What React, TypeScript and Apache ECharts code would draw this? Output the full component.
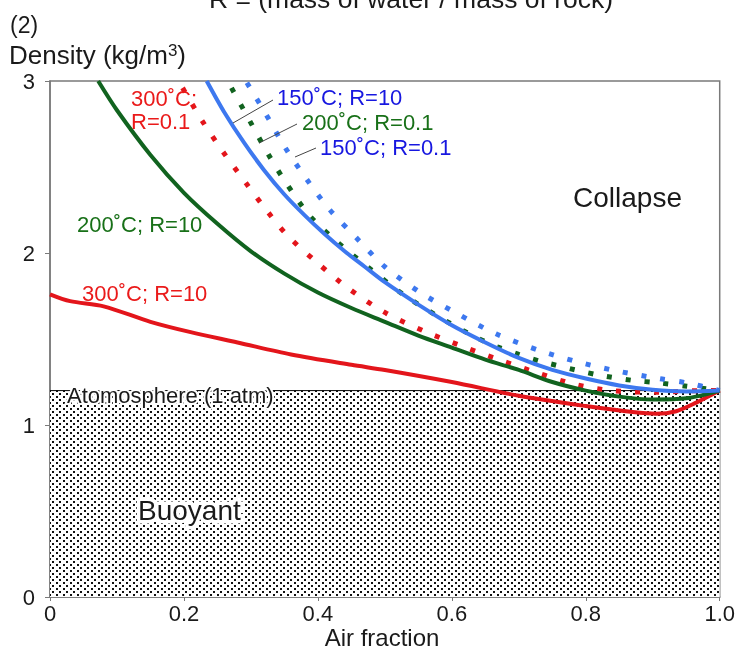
import { useEffect, useRef } from "react";
import * as echarts from "echarts";

// 300°C; R=10 (red solid)
const air300R10 = [0, 0.03, 0.08, 0.15, 0.21, 0.28, 0.36, 0.45, 0.5, 0.6, 0.7, 0.8, 0.87, 0.905, 0.935, 0.965, 1.0];
const den300R10 = [1.76, 1.72, 1.69, 1.6, 1.54, 1.48, 1.41, 1.35, 1.32, 1.25, 1.17, 1.11, 1.075, 1.065, 1.08, 1.13, 1.2];
// 200°C; R=10 (green solid)
const air200R10 = [0.072, 0.1, 0.15, 0.2, 0.25, 0.3, 0.35, 0.4, 0.45, 0.5, 0.55, 0.6, 0.65, 0.7, 0.75, 0.8, 0.85, 0.9, 0.95, 1.0];
const den200R10 = [3.0, 2.83, 2.57, 2.35, 2.17, 2.01, 1.88, 1.77, 1.68, 1.6, 1.52, 1.45, 1.38, 1.32, 1.25, 1.2, 1.165, 1.148, 1.155, 1.2];
// 150°C; R=10 (blue solid)
const air150R10 = [0.234, 0.26, 0.29, 0.32, 0.35, 0.38, 0.41, 0.44, 0.47, 0.5, 0.55, 0.6, 0.65, 0.7, 0.75, 0.8, 0.85, 0.9, 0.95, 1.0];
const den150R10 = [3.0, 2.82, 2.64, 2.48, 2.34, 2.22, 2.11, 2.01, 1.92, 1.83, 1.7, 1.58, 1.48, 1.39, 1.32, 1.27, 1.23, 1.205, 1.195, 1.2];
// 300°C; R=0.1 (red dotted)
const air300R01 = [0.198, 0.227, 0.258, 0.292, 0.325, 0.355, 0.4, 0.447, 0.502, 0.562, 0.621, 0.67, 0.73, 0.785, 0.839, 0.909, 0.973, 1.0];
const den300R01 = [2.96, 2.77, 2.59, 2.41, 2.24, 2.1, 1.94, 1.79, 1.65, 1.54, 1.45, 1.38, 1.3, 1.235, 1.2, 1.19, 1.2, 1.2];
// 200°C; R=0.1 (green dotted)
const air200R01 = [0.271, 0.298, 0.325, 0.352, 0.387, 0.427, 0.474, 0.527, 0.58, 0.636, 0.668, 0.7, 0.733, 0.785, 0.82, 0.869, 0.909, 0.951, 1.0];
const den200R01 = [2.96, 2.77, 2.58, 2.41, 2.22, 2.07, 1.92, 1.76, 1.63, 1.51, 1.455, 1.41, 1.37, 1.32, 1.29, 1.26, 1.245, 1.225, 1.2];
// 150°C; R=0.1 (blue dotted)
const air150R01 = [0.294, 0.322, 0.35, 0.383, 0.418, 0.457, 0.5, 0.553, 0.607, 0.666, 0.733, 0.785, 0.839, 0.909, 0.951, 1.0];
const den150R01 = [2.99, 2.81, 2.62, 2.43, 2.25, 2.09, 1.92, 1.77, 1.65, 1.53, 1.43, 1.37, 1.32, 1.27, 1.245, 1.2];

// Atmosphere (1 atm)
const atmAir = [0, 1];
const atmDensity = [1.2, 1.2];

const xTickLabels = ["0", "0.2", "0.4", "0.6", "0.8", "1.0"];
const yTickLabels = ["0", "1", "2", "3"];

const FONT = "'Liberation Sans', Arial, Helvetica, sans-serif";
const RED = "#e3151b";
const GREEN = "#11631f";
const BLUE_LINE = "#3d78ef";
const RED_TXT = "#ea1a1a";
const GREEN_TXT = "#187018";
const BLUE_TXT = "#1717e0";

function zip(xs: number[], ys: number[]) {
  return xs.map((x, i) => [x, ys[i]]);
}

export default function App() {
  const ref = useRef<HTMLDivElement>(null);
  useEffect(() => {
    if (!ref.current) return;
    const chart = echarts.init(ref.current, null, { renderer: "svg" });

    const tile = document.createElement("canvas");
    tile.width = 7;
    tile.height = 6;
    const ctx = tile.getContext("2d")!;
    ctx.fillStyle = "#ffffff";
    ctx.fillRect(0, 0, 7, 6);
    ctx.fillStyle = "#111111";
    ctx.fillRect(0, 0, 2, 2);
    ctx.fillRect(3, 3, 2, 2);

    const solid = (name: string, d: number[][], color: string) => ({
      type: "line",
      name,
      data: d,
      smooth: 0.3,
      showSymbol: false,
      silent: true,
      z: 4,
      lineStyle: { color, width: 4 },
    });
    const dotted = (name: string, d: number[][], color: string) => ({
      type: "line",
      name,
      data: d,
      smooth: 0.3,
      showSymbol: false,
      silent: true,
      z: 3,
      lineStyle: { color, width: 5, type: [5, 14], cap: "butt" },
    });

    const txt = (
      text: string,
      x: number,
      y: number,
      color: string,
      fontSize: number,
      extra: any = {}
    ) => ({
      type: "text",
      z: 100,
      style: {
        text,
        x,
        y,
        fill: color,
        fontSize,
        fontFamily: FONT,
        textAlign: "left",
        textVerticalAlign: "middle",
        ...extra,
      },
    });
    const lead = (x1: number, y1: number, x2: number, y2: number) => ({
      type: "line",
      z: 100,
      shape: { x1, y1, x2, y2 },
      style: { stroke: "#444", lineWidth: 1 },
    });

    chart.setOption({
      animation: false,
      grid: {
        left: 50,
        right: 16,
        top: 81,
        bottom: 53,
        show: true,
        borderColor: "#7a7a7a",
        borderWidth: 1.5,
        backgroundColor: "transparent",
      },
      xAxis: {
        type: "value",
        min: 0,
        max: 1,
        interval: 0.2,
        axisLine: { show: true, lineStyle: { color: "#7a7a7a", width: 1.5 } },
        axisTick: { show: true, length: 4, lineStyle: { color: "#7a7a7a" } },
        splitLine: { show: false },
        axisLabel: {
          fontSize: 22,
          color: "#1a1a1a",
          fontFamily: FONT,
          margin: 5,
          formatter: (v: number) => xTickLabels[Math.round(v / 0.2)] ?? "",
        },
      },
      yAxis: {
        type: "value",
        min: 0,
        max: 3,
        interval: 1,
        axisLine: { show: true, lineStyle: { color: "#7a7a7a", width: 1.5 } },
        axisTick: { show: true, length: 5, lineStyle: { color: "#7a7a7a" } },
        splitLine: { show: false },
        axisLabel: {
          fontSize: 22,
          color: "#1a1a1a",
          fontFamily: FONT,
          margin: 15,
          formatter: (v: number) => yTickLabels[Math.round(v)] ?? "",
        },
      },
      series: [
        {
          type: "line",
          name: "Atmosphere",
          data: zip(atmAir, atmDensity),
          showSymbol: false,
          silent: true,
          z: 1,
          lineStyle: { color: "#000", width: 1 },
          areaStyle: {
            opacity: 1,
            color: { image: tile, repeat: "repeat", imageWidth: 7, imageHeight: 6 },
          },
        },
        solid("300°C; R=10", zip(air300R10, den300R10), RED),
        solid("200°C; R=10", zip(air200R10, den200R10), GREEN),
        solid("150°C; R=10", zip(air150R10, den150R10), BLUE_LINE),
        dotted("300°C; R=0.1", zip(air300R01, den300R01), RED),
        dotted("200°C; R=0.1", zip(air200R01, den200R01), GREEN),
        dotted("150°C; R=0.1", zip(air150R01, den150R01), BLUE_LINE),
      ],
      graphic: [
        txt("R = (mass of water / mass of rock)", 411, 12, "#1a1a1a", 26.5, {
          textAlign: "center",
          textVerticalAlign: "bottom",
        }),
        txt("(2)", 10, 25, "#1a1a1a", 23),
        {
          type: "text",
          z: 100,
          style: {
            x: 9,
            y: 55,
            text: "Density (kg/m{sup|3})",
            fill: "#1a1a1a",
            fontSize: 26,
            fontFamily: FONT,
            textAlign: "left",
            textVerticalAlign: "middle",
            rich: {
              sup: {
                fontSize: 17,
                fontFamily: FONT,
                fill: "#1a1a1a",
                verticalAlign: "top",
                padding: [0, 0, 10, 0],
              },
            },
          },
        },
        txt("300˚C;", 131, 98, RED_TXT, 22),
        txt("R=0.1", 131, 121, RED_TXT, 22),
        txt("150˚C; R=10", 277, 97, BLUE_TXT, 22),
        txt("200˚C; R=0.1", 302, 122, GREEN_TXT, 22),
        txt("150˚C; R=0.1", 320, 147, BLUE_TXT, 22),
        txt("200˚C; R=10", 77, 224, GREEN_TXT, 22),
        txt("300˚C; R=10", 82, 293, RED_TXT, 22),
        lead(233, 123, 273, 100),
        lead(259, 143, 297, 124),
        lead(295, 157, 316, 148),
        txt("Collapse", 573, 197, "#1a1a1a", 28),
        txt("Atomosphere (1 atm)", 67, 395, "#1a1a1a", 22, {
          stroke: "#ffffff",
          lineWidth: 4,
        }),
        txt("Buoyant", 138, 510, "#1a1a1a", 28, {
          stroke: "#ffffff",
          lineWidth: 7,
        }),
        txt("Air fraction", 382, 637, "#1a1a1a", 24, { textAlign: "center" }),
      ],
    });
    return () => chart.dispose();
  }, []);
  return (
    <div
      ref={ref}
      style={{ position: "fixed", left: 0, top: 0, width: 738, height: 650 }}
    />
  );
}
